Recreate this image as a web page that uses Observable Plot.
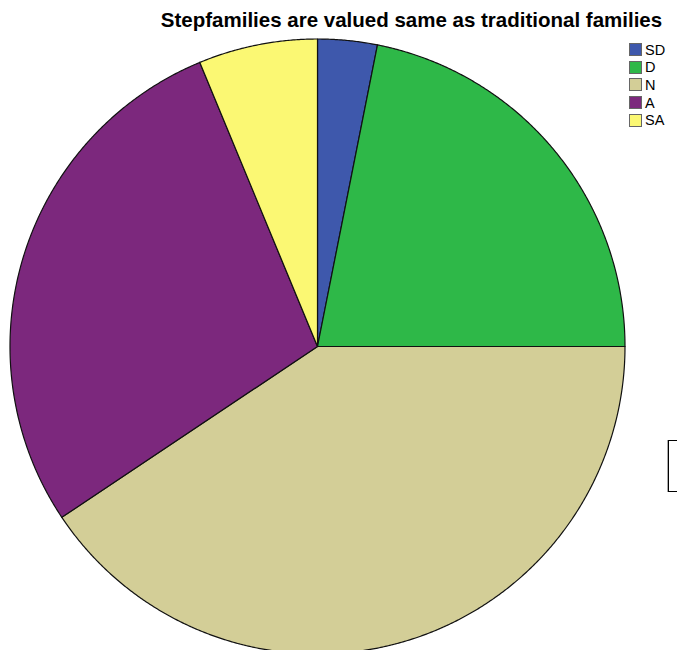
<!DOCTYPE html>
<html>
<head>
<meta charset="utf-8">
<script src="https://cdn.jsdelivr.net/npm/d3@7"></script>
<script src="https://cdn.jsdelivr.net/npm/@observablehq/plot@0.6"></script>
<style>
  html, body { margin: 0; padding: 0; background: #fff; overflow: hidden; }
  #wrap { position: relative; width: 677px; height: 650px; overflow: hidden; font-family: "Liberation Sans", Arial, sans-serif; }
  #title { position: absolute; left: 0; top: 8px; width: 677px; text-align: center; padding-left: 146px; box-sizing: border-box;
           font-weight: bold; font-size: 20.5px; color: #000; white-space: nowrap; }
  #legend { position: absolute; left: 629px; top: 41px; }
  .item { display: flex; align-items: center; height: 17.6px; font-size: 14.5px; color: #000; }
  .sw { width: 11px; height: 11px; border: 1px solid #666; margin-right: 3px; box-sizing: content-box; }
  #box { position: absolute; left: 668px; top: 440px; width: 40px; height: 50px; border: 1.5px solid #000; box-shadow: -1px 0 0 #aaa; }
</style>
</head>
<body>
<div id="wrap">
  <div id="chart"></div>
  <div id="title">Stepfamilies are valued same as traditional families</div>
  <div id="legend"></div>
  <div id="box"></div>
</div>
<script>
const categories = ["SD", "D", "N", "A", "SA"];
const counts = [1, 7, 13, 9, 2];
const colors = ["#3e58ac", "#2eb848", "#d3ce97", "#7c287d", "#fbf873"];

const W = 677, H = 650, cx = 317, cy = 346, R = 307.5;

const pie = d3.pie().sort(null).value(d => d.count);
const arcs = pie(categories.map((c, i) => ({category: c, count: counts[i]})));

// polygon outline points of each slice (unit radius, y up)
const pts = [];
for (const a of arcs) {
  const c = a.data.category;
  pts.push({category: c, x: 0, y: 0});
  const n = Math.max(2, Math.ceil((a.endAngle - a.startAngle) / 0.005));
  for (let k = 0; k <= n; k++) {
    const t = a.startAngle + (a.endAngle - a.startAngle) * k / n;
    pts.push({category: c, x: Math.sin(t), y: Math.cos(t)});
  }
  pts.push({category: c, x: 0, y: 0});
}

const chart = Plot.plot({
  width: W,
  height: H,
  margin: 0,
  x: {domain: [-cx / R, (W - cx) / R], axis: null},
  y: {domain: [(cy - H) / R, cy / R], axis: null},
  color: {domain: categories, range: colors},
  marks: [
    Plot.line(pts, {x: "x", y: "y", z: "category", fill: "category", stroke: "#111", strokeWidth: 1.2, curve: "linear", strokeLinejoin: "round"})
  ]
});
document.getElementById("chart").appendChild(chart);

const legend = document.getElementById("legend");
categories.forEach((c, i) => {
  const it = document.createElement("div");
  it.className = "item";
  const sw = document.createElement("div");
  sw.className = "sw";
  sw.style.background = colors[i];
  const lb = document.createElement("span");
  lb.textContent = c;
  it.appendChild(sw);
  it.appendChild(lb);
  legend.appendChild(it);
});
</script>
</body>
</html>
